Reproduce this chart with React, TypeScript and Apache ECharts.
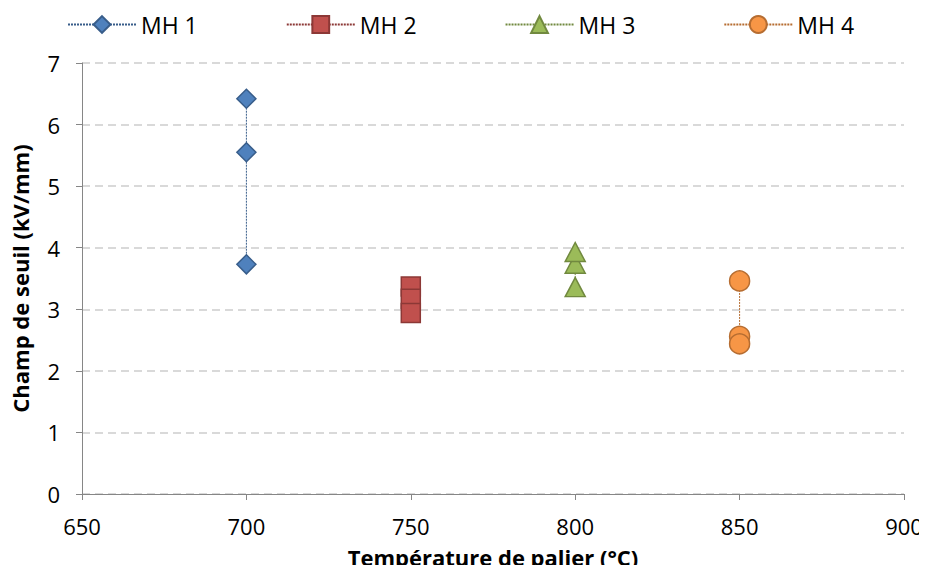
import React, { useEffect, useRef } from "react";
import * as echarts from "echarts";

const temperatures = [700, 750, 800, 850];
const seriesNames = ["MH 1", "MH 2", "MH 3", "MH 4"];
const mh1Values = [6.42, 5.55, 3.73];
const mh2Values = [3.37, 3.17, 2.94];
const mh3Values = [3.36, 3.74, 3.93];
const mh4Values = [3.46, 2.56, 2.44];
const xTicks = [650, 700, 750, 800, 850, 900];
const yTicks = [0, 1, 2, 3, 4, 5, 6, 7];

const FONT = "'Open Sans', 'Noto Sans', sans-serif";

export default function App() {
  const ref = useRef<HTMLDivElement>(null);
  useEffect(() => {
    if (!ref.current) return;
    const chart = echarts.init(ref.current, undefined, { renderer: "svg" });
    const valueSets = [mh1Values, mh2Values, mh3Values, mh4Values];
    const symbols = ["diamond", "rect", "triangle", "circle"];
    const fills = ["#4F81BD", "#C0504D", "#9BBB59", "#F79646"];
    const borders = ["#385D8A", "#8C3836", "#71893F", "#B66D31"];
    const lineColors = ["#385D8A", "#8C3836", "#71893F", "#B66D31"];
    const sizes = [19, 19, [20, 19], 20];
    const series = seriesNames.map((name, i) => ({
      name,
      type: "line",
      data: valueSets[i].map((v) => [temperatures[i], v]),
      symbol: symbols[i],
      symbolSize: sizes[i],
      showAllSymbol: true,
      lineStyle: { color: lineColors[i], width: 1, type: [2, 1] },
      itemStyle: { color: fills[i], borderColor: borders[i], borderWidth: 1.5 },
      z: 2,
    }));
    chart.setOption({
      animation: false,
      textStyle: { fontFamily: FONT },
      legend: {
        top: 8,
        left: 62,
        itemWidth: 68,
        itemHeight: 21,
        itemGap: 88,
        textStyle: { fontSize: 23, color: "#000", fontFamily: FONT },
        data: seriesNames,
      },
      grid: { left: 82, right: 23, top: 63, bottom: 76, containLabel: false },
      xAxis: {
        type: "value",
        min: xTicks[0],
        max: xTicks[xTicks.length - 1],
        interval: 50,
        name: "Température de palier (°C)",
        nameLocation: "middle",
        nameGap: 52,
        nameTextStyle: { fontSize: 22, lineHeight: 22, fontWeight: "bold", color: "#000", fontFamily: FONT },
        axisLine: { show: true, lineStyle: { color: "#868686", width: 1 } },
        axisTick: { show: true, length: 6, lineStyle: { color: "#868686" } },
        axisLabel: { fontSize: 22, lineHeight: 20, color: "#000", margin: 22, fontFamily: FONT },
        splitLine: { show: false },
      },
      yAxis: {
        type: "value",
        min: yTicks[0],
        max: yTicks[yTicks.length - 1],
        interval: 1,
        name: "Champ de seuil (kV/mm)",
        nameLocation: "middle",
        nameGap: 51,
        nameRotate: 90,
        nameTextStyle: { fontSize: 22, fontWeight: "bold", color: "#000", fontFamily: FONT },
        axisLine: { show: true, lineStyle: { color: "#868686", width: 1 } },
        axisTick: { show: true, length: 6, lineStyle: { color: "#868686" } },
        axisLabel: { fontSize: 22, color: "#000", margin: 22, fontFamily: FONT },
        splitLine: { show: true, lineStyle: { color: "#D9D9D9", width: 2, type: [8, 5] } },
      },
      series,
    });
    return () => chart.dispose();
  }, []);
  return <div ref={ref} style={{ width: 927, height: 573, margin: -8 }} />;
}
